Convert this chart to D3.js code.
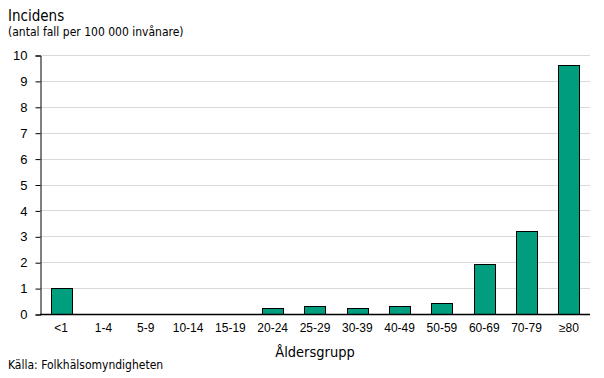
<!DOCTYPE html>
<html>
<head>
<meta charset="utf-8">
<script src="https://cdn.jsdelivr.net/npm/d3@7"></script>
<style>
  body { margin: 0; background: #fff; }
  svg { font-family: "DejaVu Sans Condensed", "DejaVu Sans", sans-serif; }
</style>
</head>
<body>
<svg id="chart" width="604" height="378"></svg>
<script>
var categories = ["<1", "1-4", "5-9", "10-14", "15-19", "20-24", "25-29", "30-39", "40-49", "50-59", "60-69", "70-79", "≥80"]
var values = [1.0, 0, 0, 0, 0, 0.22, 0.3, 0.22, 0.3, 0.41, 1.92, 3.19, 9.6]
var yTicks = [0, 1, 2, 3, 4, 5, 6, 7, 8, 9, 10]

var svg = d3.select("#chart")

var x = d3.scaleBand().domain(categories).range([40, 590]).paddingInner(0.5).paddingOuter(0.25)
var y = d3.scaleLinear().domain([0, 10]).range([314, 55])

// grid
svg.append("g").selectAll("line")
    .data(yTicks.filter(function (d) { return d > 0 }))
    .enter().append("line")
    .attr("x1", 40).attr("x2", 590)
    .attr("y1", function (d) { return Math.round(y(d)) + 0.5 })
    .attr("y2", function (d) { return Math.round(y(d)) + 0.5 })
    .attr("stroke", "#d9d9d9")

// bars
svg.append("g").selectAll("rect")
    .data(values)
    .enter().append("rect")
    .attr("x", function (d, i) { return Math.round(x(categories[i])) + 0.5 })
    .attr("width", Math.round(x.bandwidth()))
    .attr("y", function (d) { return Math.round(y(d)) + 0.5 })
    .attr("height", function (d) { return Math.round(y(0)) - Math.round(y(d)) })
    .attr("fill", function (d) { return d > 0 ? "#009e7f" : "none" })
    .attr("stroke", function (d) { return d > 0 ? "#000" : "none" })

// y axis
var yAxis = d3.axisLeft(y).tickValues(yTicks).tickSize(5).tickPadding(8)
var gy = svg.append("g").attr("transform", "translate(40.5,0.5)").call(yAxis)
gy.select(".domain").attr("stroke", "#000")
gy.selectAll("text").attr("font-size", 13).attr("fill", "#000")

// x axis
var xAxis = d3.axisBottom(x).tickSize(0).tickPadding(9)
var gx = svg.append("g").attr("transform", "translate(0,314.5)").call(xAxis)
gx.select(".domain").attr("d", "M40,0H590").attr("stroke", "#000").attr("stroke-width", 1.5)
gx.selectAll("text").attr("font-size", 12).attr("fill", "#000")

// titles
svg.append("text").attr("x", 8).attr("y", 21).attr("font-size", 15).text("Incidens")
svg.append("text").attr("x", 8).attr("y", 36).attr("font-size", 12).text("(antal fall  per 100 000 invånare)")
svg.append("text").attr("x", 315).attr("y", 357).attr("text-anchor", "middle").attr("font-size", 14.5).text("Åldersgrupp")
svg.append("text").attr("x", 8).attr("y", 369).attr("font-size", 12).text("Källa:  Folkhälsomyndigheten")
</script>
</body>
</html>
